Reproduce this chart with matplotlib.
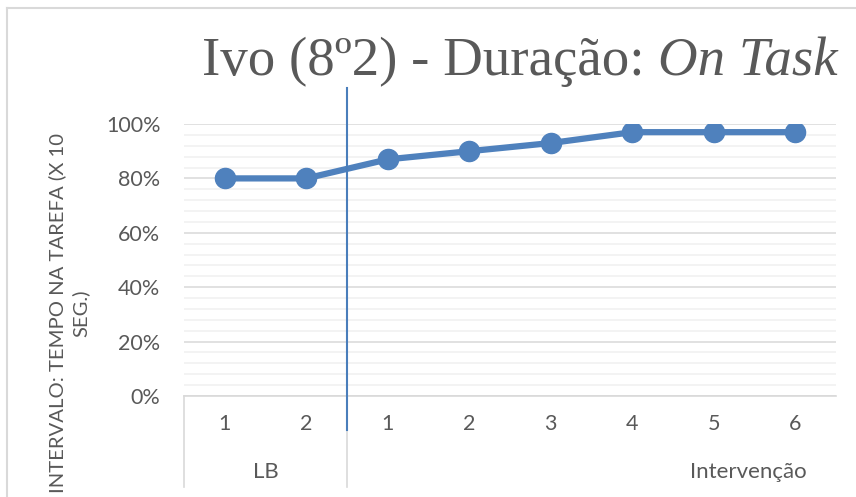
import numpy as np
import matplotlib
matplotlib.use("Agg")
import matplotlib.pyplot as plt
from matplotlib.lines import Line2D
from matplotlib.ticker import PercentFormatter, MultipleLocator

sessions = ["1", "2", "1", "2", "3", "4", "5", "6"]
phases = ["LB", "Intervenção"]
phase_sizes = [2, 6]
on_task = [0.80, 0.80, 0.87, 0.90, 0.93, 0.97, 0.97, 0.97]

GRAY_TXT = "#595959"
BLUE = "#4f81bd"


def create_graph(x, y):
    """
    - Args:
        - x (np.ndarray)
        - y (list)
    - Returns:
    """
    fig = plt.figure(figsize=(8.56, 4.97), dpi=100)
    ax = fig.add_axes([184/856, 1-396/497, (836-184)/856, (396-124)/497])

    # outer chart border (only top/left visible in the crop)
    fig.add_artist(Line2D([7/856, 1.0], [1-8/497, 1-8/497],
                          transform=fig.transFigure, color="#d9d9d9", lw=1.5))
    fig.add_artist(Line2D([7/856, 7/856], [0, 1-8/497],
                          transform=fig.transFigure, color="#d9d9d9", lw=1.5))

    ax.plot(x, y, color=BLUE, lw=4.5, marker="o", ms=14.5, zorder=3)

    ax.set_xlim(-0.5, len(x) - 0.5)
    ax.set_ylim(0, 1)
    ax.yaxis.set_major_locator(MultipleLocator(0.2))
    ax.yaxis.set_minor_locator(MultipleLocator(0.04))
    ax.yaxis.set_major_formatter(PercentFormatter(1.0, decimals=0))
    ax.grid(which="major", axis="y", color="#d9d9d9", lw=1.1)
    ax.grid(which="minor", axis="y", color="#f0f0f0", lw=1.1)
    ax.set_axisbelow(True)
    for s in ["top", "right", "left"]:
        ax.spines[s].set_visible(False)
    ax.spines["bottom"].set_color("#d9d9d9")
    ax.spines["bottom"].set_linewidth(1.2)

    ax.tick_params(axis="y", which="both", length=0, pad=17,
                   labelsize=15.5, labelcolor=GRAY_TXT)
    ax.set_xticks(x)
    ax.set_xticklabels(sessions)
    ax.tick_params(axis="x", length=0, pad=13, labelsize=15.5, labelcolor=GRAY_TXT)

    # group separators and group labels under the axis
    trans = ax.get_xaxis_transform()
    bounds = np.cumsum([0] + phase_sizes) - 0.5
    for b in bounds[:-1]:
        ax.plot([b, b], [0, -0.335], transform=trans, color="#d9d9d9",
                lw=1.2, clip_on=False)
    ax.text(bounds[0] + phase_sizes[0] / 2, -0.28, phases[0], transform=trans,
            ha="center", va="center", fontsize=16, color=GRAY_TXT)
    ax.text(6.42, -0.28, phases[1], transform=trans,
            ha="center", va="center", fontsize=16, color=GRAY_TXT)

    # phase change line
    ax.plot([1.5, 1.5], [-0.125, 1.132], transform=trans, color="#4a7ebb",
            lw=1.5, clip_on=False, zorder=4)

    # y label
    fig.text(69/856, 1-313/497, "INTERVALO: TEMPO NA TAREFA (X 10\nSEG.)",
             rotation=90, ha="center", va="center", multialignment="center",
             fontsize=14.6, color=GRAY_TXT, linespacing=1.38)

    # title: regular part + italic part
    t2 = fig.text(838/856, 1-87/497, "On Task", ha="right", va="bottom",
                  fontsize=39.5, color=GRAY_TXT, style="italic",
                  family="Liberation Serif")
    ax.annotate("Ivo (8º2) - Duração: ", xy=(0, 0), xycoords=t2,
                ha="right", va="bottom", fontsize=39.5, color=GRAY_TXT,
                family="Liberation Serif", annotation_clip=False)

    fig.savefig("out.png", dpi=100)


def main():
    """
    - Args:
    - Returns:
    """
    plt.rcParams["font.family"] = ["Lato", "DejaVu Sans"]
    x = np.arange(len(on_task))
    create_graph(x, on_task)


if __name__ == '__main__':
    main()
